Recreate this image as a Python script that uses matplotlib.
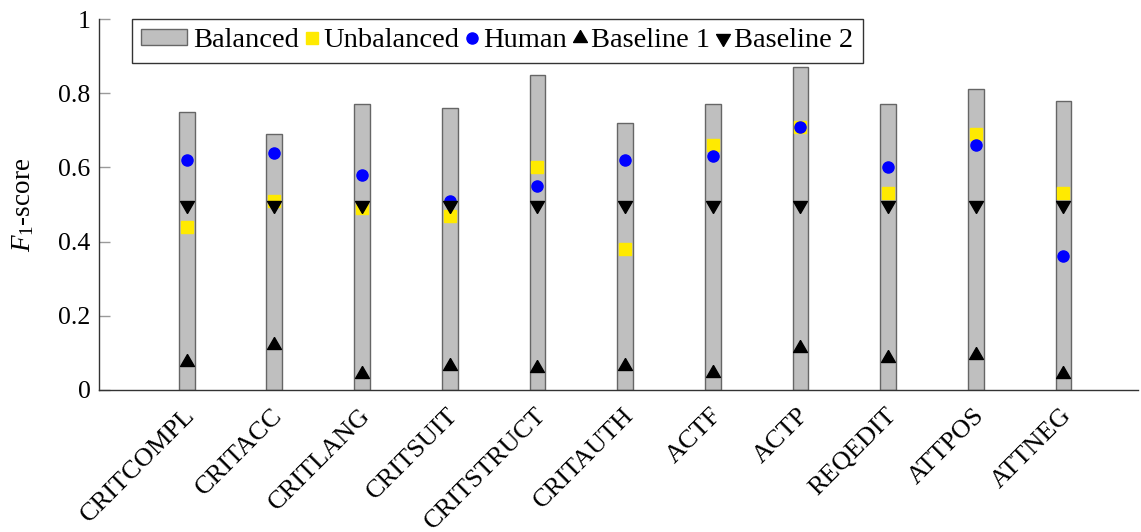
import matplotlib
matplotlib.use('Agg')
import matplotlib.pyplot as plt
import matplotlib.transforms as mtrans
import numpy as np
from matplotlib.patches import Patch
from matplotlib.lines import Line2D

categories = ['CRITCOMPL', 'CRITACC', 'CRITLANG', 'CRITSUIT', 'CRITSTRUCT', 'CRITAUTH',
              'ACTF', 'ACTP', 'REQEDIT', 'ATTPOS', 'ATTNEG']
balanced = [0.75, 0.69, 0.77, 0.76, 0.85, 0.72, 0.77, 0.87, 0.77, 0.81, 0.78]
unbalanced = [0.44, 0.51, 0.49, 0.47, 0.60, 0.38, 0.66, 0.71, 0.53, 0.69, 0.53]
human = [0.62, 0.64, 0.58, 0.51, 0.55, 0.62, 0.63, 0.71, 0.60, 0.66, 0.36]
baseline1 = [0.075, 0.122, 0.044, 0.066, 0.059, 0.064, 0.046, 0.114, 0.086, 0.095, 0.042]
baseline2 = [0.50, 0.50, 0.50, 0.50, 0.50, 0.50, 0.50, 0.50, 0.50, 0.50, 0.50]
yticks = [0, 0.2, 0.4, 0.6, 0.8, 1]
ytick_labels = ['0', '0.2', '0.4', '0.6', '0.8', '1']
series_labels = ['Balanced', 'Unbalanced', 'Human', 'Baseline 1', 'Baseline 2']

plt.rcParams['font.family'] = ['Liberation Serif', 'DejaVu Serif']
plt.rcParams['mathtext.fontset'] = 'custom'
plt.rcParams['mathtext.rm'] = 'Liberation Serif'
plt.rcParams['mathtext.it'] = 'Liberation Serif:italic'

BAR_FACE = '#bfbfbf'
BAR_EDGE = '#666666'
YELLOW = '#ffea00'
BLUE = '#0000ff'
up_tri = [(0, 1), (-0.866, -0.5), (0.866, -0.5), (0, 1)]
down_tri = [(0, -1), (-0.866, 0.5), (0.866, 0.5), (0, -1)]
MS_SQ = 8
MS_CI = 8
MS_TR = 11.5

fig = plt.figure(figsize=(11.41, 5.32), dpi=100)
ax = fig.add_axes([99 / 1141, 1 - 390 / 532, (1138 - 99) / 1141, (390 - 19) / 532])

x = np.arange(len(categories))
ax.bar(x, balanced, width=0.18, color=BAR_FACE, edgecolor=BAR_EDGE, linewidth=1.0, zorder=2)
ax.plot(x, unbalanced, ls='none', marker='s', color=YELLOW, markersize=MS_SQ, zorder=3)
ax.plot(x, human, ls='none', marker='o', color=BLUE, markersize=MS_CI, zorder=4)
ax.plot(x, baseline1, ls='none', marker=up_tri, color='black', markersize=MS_TR, zorder=5)
ax.plot(x, baseline2, ls='none', marker=down_tri, color='black', markersize=MS_TR, zorder=6)

ax.set_xlim(-1.0, 10.85)
ax.set_ylim(0, 1)
ax.set_yticks(yticks)
ax.set_yticklabels(ytick_labels, fontsize=18.5)
ax.set_xticks(x)
ax.set_xticklabels(categories, fontsize=19, rotation=45, ha='right', va='center',
                   rotation_mode='anchor')
ax.tick_params(axis='x', length=0, pad=16)
ax.tick_params(axis='y', direction='in', length=8, width=1, color='#9a9a9a', pad=6)
shift = mtrans.ScaledTranslation(5 / 100, 0, fig.dpi_scale_trans)
for lbl in ax.get_xticklabels():
    lbl.set_transform(lbl.get_transform() + shift)
for s in ['top', 'right']:
    ax.spines[s].set_visible(False)
for s in ['left', 'bottom']:
    ax.spines[s].set_color('#333333')
    ax.spines[s].set_linewidth(1.0)

ax.set_ylabel('$F_1$-score', fontsize=19.5)
ax.yaxis.set_label_coords(-0.061, 0.5)

h_bal = Patch(facecolor=BAR_FACE, edgecolor=BAR_EDGE, linewidth=1.0)
h_un = Line2D([], [], ls='none', marker='s', color=YELLOW, markersize=MS_SQ)
h_hu = Line2D([], [], ls='none', marker='o', color=BLUE, markersize=MS_CI)
h_b1 = Line2D([], [], ls='none', marker=up_tri, color='black', markersize=MS_TR)
h_b2 = Line2D([], [], ls='none', marker=down_tri, color='black', markersize=MS_TR)
leg = ax.legend([h_bal, h_un, h_hu, h_b1, h_b2], series_labels, ncol=5,
                loc='upper left', bbox_to_anchor=(0.0315, 1.0), borderaxespad=0,
                fancybox=False, edgecolor='#333333', framealpha=1, fontsize=20.5,
                handlelength=0.4, handleheight=0.49, handletextpad=0.2,
                columnspacing=0.25, borderpad=0.33)
leg.get_frame().set_linewidth(1.0)
leg.set_zorder(10)
# widen the bar handle to match the reference legend swatch
try:
    new_w = 46 * 72 / 100
    da = leg._legend_handle_box.get_children()[0].get_children()[0].get_children()[0]
    da.width = new_w
    leg.legend_handles[0].set_width(new_w)
except Exception:
    pass

fig.savefig('out.png', dpi=100, facecolor='white')
